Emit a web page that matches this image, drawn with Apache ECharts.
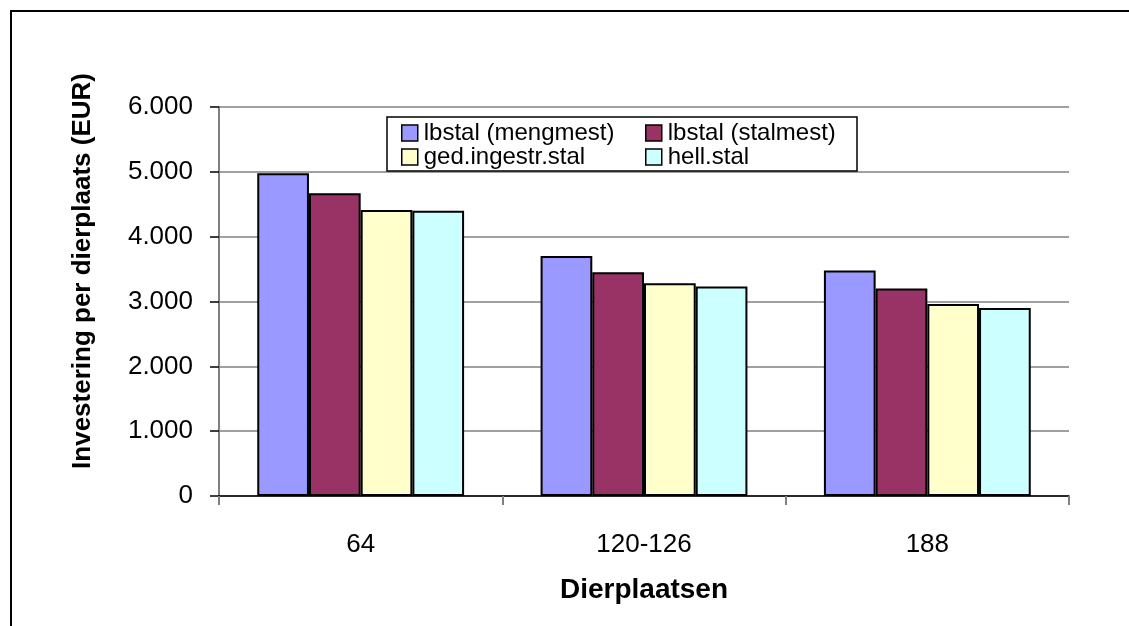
<!DOCTYPE html>
<html>
<head>
<meta charset="utf-8">
<script src="https://cdn.jsdelivr.net/npm/echarts@6/dist/echarts.min.js"></script>
<style>
  html, body { margin: 0; padding: 0; background: #fff; }
  #main { width: 1129px; height: 626px; }
</style>
</head>
<body>
<div id="main"></div>
<script>
  // data
  var categories = ['64', '120-126', '188'];
  var seriesNames = ['lbstal (mengmest)', 'lbstal (stalmest)', 'ged.ingestr.stal', 'hell.stal'];
  var mengmest = [4980, 3700, 3480];
  var stalmest = [4670, 3450, 3200];
  var ingestr = [4410, 3280, 2960];
  var hell = [4400, 3230, 2900];
  var yTicks = [0, 1000, 2000, 3000, 4000, 5000, 6000];

  var colors = ['#9999FF', '#993366', '#FFFFCC', '#CCFFFF'];
  var font = 'Liberation Sans, Arial, sans-serif';

  function bar(name, data, color) {
    return {
      name: name,
      type: 'bar',
      data: data,
      barGap: '0%',
      barCategoryGap: '27%',
      itemStyle: { color: color, borderColor: '#000', borderWidth: 2 }
    };
  }

  function legendBox(left, names) {
    return {
      orient: 'vertical',
      left: left, top: 116,
      z: 10,
      itemGap: 0, itemWidth: 16, itemHeight: 16,
      icon: 'rect',
      data: names,
      itemStyle: { borderColor: '#000', borderWidth: 1.5 },
      textStyle: { fontFamily: font, fontSize: 24, lineHeight: 24, color: '#000', padding: [0, 0, 0, 1] }
    };
  }

  var myChart = echarts.init(document.getElementById('main'));
  var option = {
    backgroundColor: '#fff',
    animation: false,
    grid: { left: 219, right: 60, top: 107, bottom: 130 },
    legend: [
      legendBox(396, [seriesNames[0], seriesNames[2]]),
      legendBox(640, [seriesNames[1], seriesNames[3]])
    ],
    xAxis: {
      type: 'category',
      data: categories,
      name: 'Dierplaatsen',
      nameLocation: 'middle',
      nameGap: 80,
      nameTextStyle: { fontFamily: font, fontSize: 28, fontWeight: 'bold', color: '#000' },
      axisLine: { lineStyle: { color: '#000', width: 1.5 } },
      axisTick: { show: true, length: 9, lineStyle: { color: '#808080', width: 2 } },
      axisLabel: { fontFamily: font, fontSize: 26, color: '#000', margin: 36 }
    },
    yAxis: {
      type: 'value',
      min: 0, max: 6000, interval: 1000,
      axisLine: { show: true, lineStyle: { color: '#808080', width: 2 } },
      axisTick: { show: true, length: 9, lineStyle: { color: '#000', width: 1.5 } },
      splitLine: { lineStyle: { color: '#808080', width: 1.5 } },
      axisLabel: {
        fontFamily: font, fontSize: 26, color: '#000', margin: 26,
        formatter: function (v) {
          return yTicks.indexOf(v) >= 0 ? (v === 0 ? '0' : (v / 1000) + '.000') : '';
        }
      }
    },
    graphic: [{
      type: 'rect',
      shape: { x: 11, y: 11, width: 1300, height: 800 },
      style: { fill: 'none', stroke: '#000', lineWidth: 2 },
      z: 0
    }, {
      type: 'rect',
      shape: { x: 387, y: 117, width: 470, height: 54 },
      style: { fill: '#fff', stroke: '#000', lineWidth: 1.5 },
      z: 5
    }, {
      type: 'text',
      x: 83, y: 271,
      rotation: Math.PI / 2,
      style: {
        text: 'Investering per dierplaats (EUR)',
        fontFamily: font, fontSize: 26, fontWeight: 'bold', fill: '#000',
        align: 'center', verticalAlign: 'middle'
      },
      z: 5
    }],
    series: [
      bar(seriesNames[0], mengmest, colors[0]),
      bar(seriesNames[1], stalmest, colors[1]),
      bar(seriesNames[2], ingestr, colors[2]),
      bar(seriesNames[3], hell, colors[3])
    ]
  };
  myChart.setOption(option);
</script>
</body>
</html>
